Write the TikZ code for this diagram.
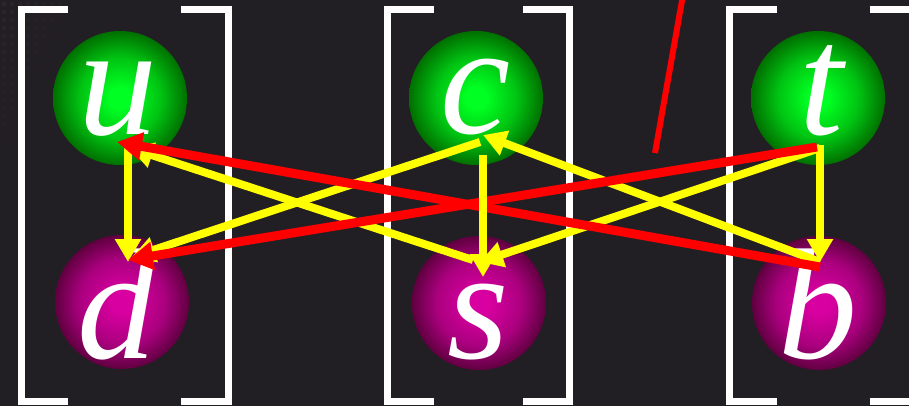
\documentclass[tikz,border=0pt]{standalone}
\usepackage{fontspec}
\setmainfont{Liberation Serif}
\usetikzlibrary{arrows.meta}
\definecolor{bg}{HTML}{221F24}
\definecolor{dotc}{HTML}{2C2529}
\definecolor{gc}{HTML}{00FF22}
\definecolor{gm}{HTML}{00C412}
\definecolor{ge}{HTML}{007000}
\definecolor{mc}{HTML}{D800A0}
\definecolor{mm}{HTML}{AA007E}
\definecolor{me}{HTML}{600040}
\definecolor{yel}{HTML}{FFFF00}
\definecolor{rd}{HTML}{FF0000}
\pgfdeclareradialshading{greenball}{\pgfpoint{0bp}{0bp}}{color(0bp)=(gc); color(4bp)=(gc); color(15bp)=(gm); color(25bp)=(ge); color(50bp)=(ge)}
\pgfdeclareradialshading{magball}{\pgfpoint{0bp}{0bp}}{color(0bp)=(mc); color(4bp)=(mc); color(16bp)=(mm); color(25bp)=(me); color(50bp)=(me)}
\tikzset{
  ballg/.style={circle, minimum size=134pt, inner sep=0pt, shading=greenball},
  ballm/.style={circle, minimum size=134pt, inner sep=0pt, shading=magball},
  letter/.style={anchor=base, inner sep=0pt, text=white, font=\fontsize{158}{158}\selectfont\itshape},
  brack/.style={draw=white, line width=7pt, miter limit=10},
  yarr/.style={draw=yel, line width=8pt, -{Triangle[length=23pt,width=25pt]}},
  rarr/.style={draw=rd, line width=9pt, -{Triangle[length=25pt,width=27pt]}},
}
\begin{document}
\begin{tikzpicture}[x=1pt,y=-1pt]
\useasboundingbox (0,0) rectangle (909,406);
\fill[bg] (0,0) rectangle (909,406);
% faint dotted texture, top left
\foreach \i in {0,...,8}{
  \foreach \j in {0,...,17}{
    \pgfmathsetmacro\op{max(0,1-\i/9-\j/19)}
    \fill[dotc,opacity=\op] (\i*8+2,\j*8+2) rectangle ++(4,4);
  }
}
% brackets
\draw[brack] (68,10) -- (21,10) -- (21,401) -- (68,401);
\draw[brack] (181,10) -- (228,10) -- (228,401) -- (181,401);
\draw[brack] (434,10) -- (387,10) -- (387,401) -- (434,401);
\draw[brack] (523,10) -- (569.5,10) -- (569.5,401) -- (523,401);
\draw[brack] (777,10) -- (729.5,10) -- (729.5,401) -- (777,401);
\draw[brack] (870,10) -- (917,10) -- (917,401) -- (870,401);
% balls
\node[ballg] (u) at (120,98) {};
\node[ballg] (c) at (476,98) {};
\node[ballg] (t) at (818,98) {};
\node[ballm] (d) at (122,302) {};
\node[ballm] (s) at (479,303) {};
\node[ballm] (b) at (819,303) {};
% letters
\node[letter] (lu) at (118,135) {u};
\node[letter] (lc) at (476,134) {c};
\node[letter] (lt) at (821,135) {t};
\node[letter] (ld) at (117,358) {d};
\node[letter] (ls) at (478,358) {s};
\node[letter] (lb) at (818,358) {b};
% red stroke at top
\coordinate (r1) at (683,-5);
\coordinate (r2) at (655,153);
\draw[draw=rd, line width=6pt] (r1) -- (r2);
% yellow diagonals
\draw[yarr] ([shift={(4,44)}]c.center) -- ([shift={(10,-45)}]d.center);
\draw[yarr] ([shift={(2,50)}]t.center) -- ([shift={(1,-41)}]s.center);
\draw[yarr] ([shift={(1,-41)}]b.center) -- ([shift={(7,37)}]c.center);
\draw[yarr] ([shift={(-6,-43)}]s.center) -- ([shift={(10,50)}]u.center);
% yellow verticals (outer)
\draw[yarr] ([shift={(8,50)}]u.center) -- ([shift={(6,-40)}]d.center);
\draw[yarr] ([shift={(2,47)}]t.center) -- ([shift={(1,-41)}]b.center);
% red arrows
\draw[rarr] ([shift={(1,-36)}]b.center) -- ([shift={(-3,44)}]u.center);
\draw[rarr] ([shift={(-1,49)}]t.center) -- ([shift={(6,-42)}]d.center);
% yellow vertical (middle)
\draw[yarr] ([shift={(7,57)}]c.center) -- ([shift={(4,-26)}]s.center);
\end{tikzpicture}
\end{document}
